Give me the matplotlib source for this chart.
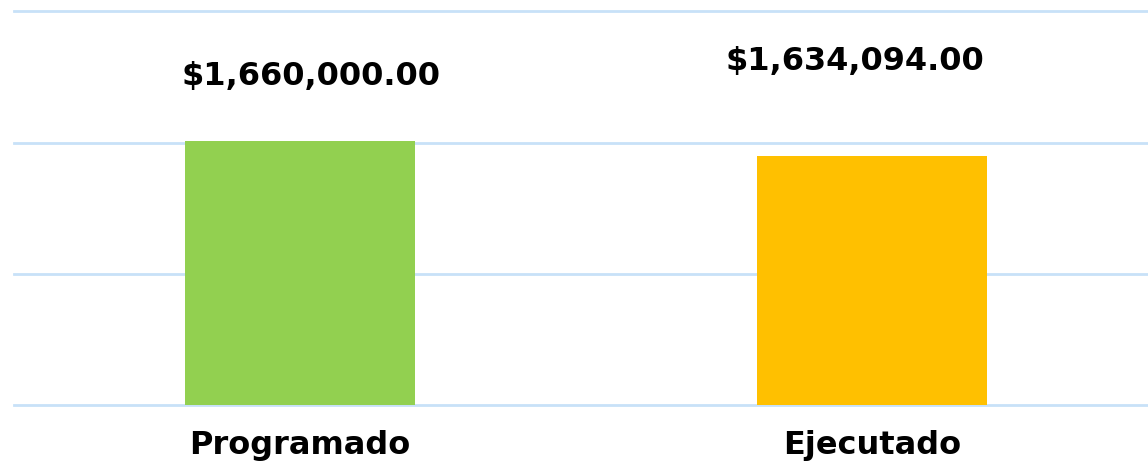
import numpy as np
import matplotlib.pyplot as plt

categories = ["Programado", "Ejecutado"]
values = [1660000.00, 1634094.00]
bar_colors = ["#92D050", "#FFC000"]

fig = plt.figure(figsize=(11.48, 4.66), dpi=100)
ax = fig.add_axes([14 / 1148, 61 / 466, 1 - 14 / 1148, 405 / 466])

x = np.arange(len(categories))
ax.bar(x, values, width=0.402, color=bar_colors, zorder=2)

# axis does not start at zero in the original
y0 = 1200000
step = 228257
ax.set_ylim(y0, y0 + step * 406 / 131.5)
ax.set_xlim(-0.5, 1.4825)

ax.set_yticks([y0 + k * step for k in range(4)])
ax.yaxis.grid(True, color="#C8E1F8", linewidth=2, zorder=0)
for gl in ax.get_ygridlines():
    gl.set_clip_on(False)
ax.tick_params(axis="y", left=False, labelleft=False)
ax.set_xticks(x)
ax.set_xticklabels(categories, fontsize=23, fontweight="bold")
ax.tick_params(axis="x", length=0, pad=18)
for s in ax.spines.values():
    s.set_visible(False)

# value labels sit at different spots above the bars
label_dx = [0.019, -0.030]
label_y = [1771500, 1797650]
for xi, v, dx, ly in zip(x, values, label_dx, label_y):
    ax.text(xi + dx, ly, f"${v:,.2f}", ha="center", va="center",
            fontsize=23, fontweight="bold", color="black")

fig.savefig("out.png", dpi=100)
